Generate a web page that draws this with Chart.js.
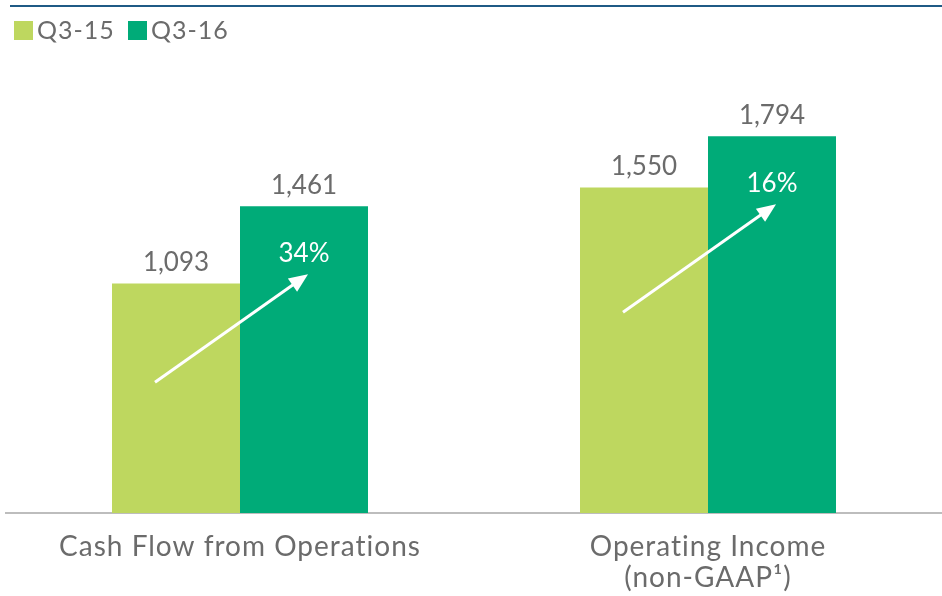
<!DOCTYPE html>
<html>
<head>
<meta charset="utf-8">
<script src="https://cdn.jsdelivr.net/npm/chart.js@4.4.0/dist/chart.umd.min.js"></script>
<style>
  html, body { margin: 0; padding: 0; background: #fff; }
  #wrap { width: 942px; height: 596px; position: relative; }
</style>
</head>
<body>
<div id="wrap"><canvas id="chart"></canvas></div>
<script>
const categories = ['Cash Flow from Operations', ['Operating Income', '(non-GAAP\u00b9)']];
const seriesNames = ['Q3-15', 'Q3-16'];
const q315 = [1093, 1550];
const q316 = [1461, 1794];
const colors = ['#bed75f', '#00ab78'];

const textGray = '#6b6b6b';
const fontFamily = 'Lato, "Open Sans", sans-serif';

// top rule, legend, value labels, growth arrows
const decorations = {
    id: 'decorations',
    beforeDraw(chart) {
        const ctx = chart.ctx;
        // reference font runs a little wider than Lato
        ctx.letterSpacing = '1px';
        ctx.save();
        ctx.fillStyle = '#1f5a85';
        ctx.fillRect(10, 5, chart.width - 10, 2);

        let x = 14;
        ctx.font = '25px ' + fontFamily;
        ctx.textBaseline = 'middle';
        chart.data.datasets.forEach(function(ds) {
            ctx.fillStyle = ds.backgroundColor;
            ctx.fillRect(x, 21, 19, 19);
            ctx.fillStyle = textGray;
            ctx.fillText(ds.label, x + 23, 31);
            x += 114;
        });
        ctx.restore();
    },
    afterDatasetsDraw(chart) {
        const ctx = chart.ctx;
        const m0 = chart.getDatasetMeta(0);
        const m1 = chart.getDatasetMeta(1);
        ctx.save();
        ctx.letterSpacing = '0px';
        ctx.font = '26px ' + fontFamily;
        ctx.textAlign = 'center';
        ctx.textBaseline = 'bottom';
        ctx.fillStyle = textGray;
        [m0, m1].forEach(function(meta, d) {
            meta.data.forEach(function(bar, i) {
                const v = chart.data.datasets[d].data[i];
                ctx.fillText(v.toLocaleString('en-US'), bar.x, bar.y - 8);
            });
        });

        for (let i = 0; i < q315.length; i++) {
            const b0 = m0.data[i];
            const b1 = m1.data[i];
            const pct = Math.round((q316[i] / q315[i] - 1) * 100) + '%';
            const ty = b1.y + 47;
            ctx.fillStyle = '#ffffff';
            ctx.textBaseline = 'middle';
            ctx.fillText(pct, b1.x, ty);

            const x2 = b0.x + 132, y2 = ty + 21;
            const x1 = x2 - 153, y1 = y2 + 108;
            const ang = Math.atan2(y2 - y1, x2 - x1);
            ctx.strokeStyle = '#ffffff';
            ctx.lineWidth = 3;
            ctx.beginPath();
            ctx.moveTo(x1, y1);
            ctx.lineTo(x2 - 14 * Math.cos(ang), y2 - 14 * Math.sin(ang));
            ctx.stroke();
            ctx.beginPath();
            ctx.moveTo(x2, y2);
            ctx.lineTo(x2 - 19 * Math.cos(ang) + 8 * Math.sin(ang), y2 - 19 * Math.sin(ang) - 8 * Math.cos(ang));
            ctx.lineTo(x2 - 19 * Math.cos(ang) - 8 * Math.sin(ang), y2 - 19 * Math.sin(ang) + 8 * Math.cos(ang));
            ctx.closePath();
            ctx.fill();
        }
        ctx.restore();
    }
};

new Chart(document.getElementById('chart'), {
    type: 'bar',
    data: {
        labels: categories,
        datasets: [
            { label: seriesNames[0], data: q315, backgroundColor: colors[0] },
            { label: seriesNames[1], data: q316, backgroundColor: colors[1] }
        ]
    },
    options: {
        responsive: true,
        maintainAspectRatio: false,
        animation: false,
        layout: { padding: { left: 6, right: -2, top: 51, bottom: 0 } },
        datasets: {
            bar: { categoryPercentage: 0.547, barPercentage: 1.0 }
        },
        plugins: {
            legend: { display: false },
            tooltip: { enabled: false }
        },
        scales: {
            x: {
                grid: { display: false, drawTicks: false },
                border: { color: '#bdbdbd', width: 2 },
                ticks: {
                    color: textGray,
                    padding: 19,
                    font: { family: fontFamily, size: 28, lineHeight: 1.1 }
                },
                afterFit: function(scale) { scale.height = 83; }
            },
            y: {
                display: false,
                min: 0,
                max: 2200
            }
        }
    },
    plugins: [decorations]
});
</script>
</body>
</html>
